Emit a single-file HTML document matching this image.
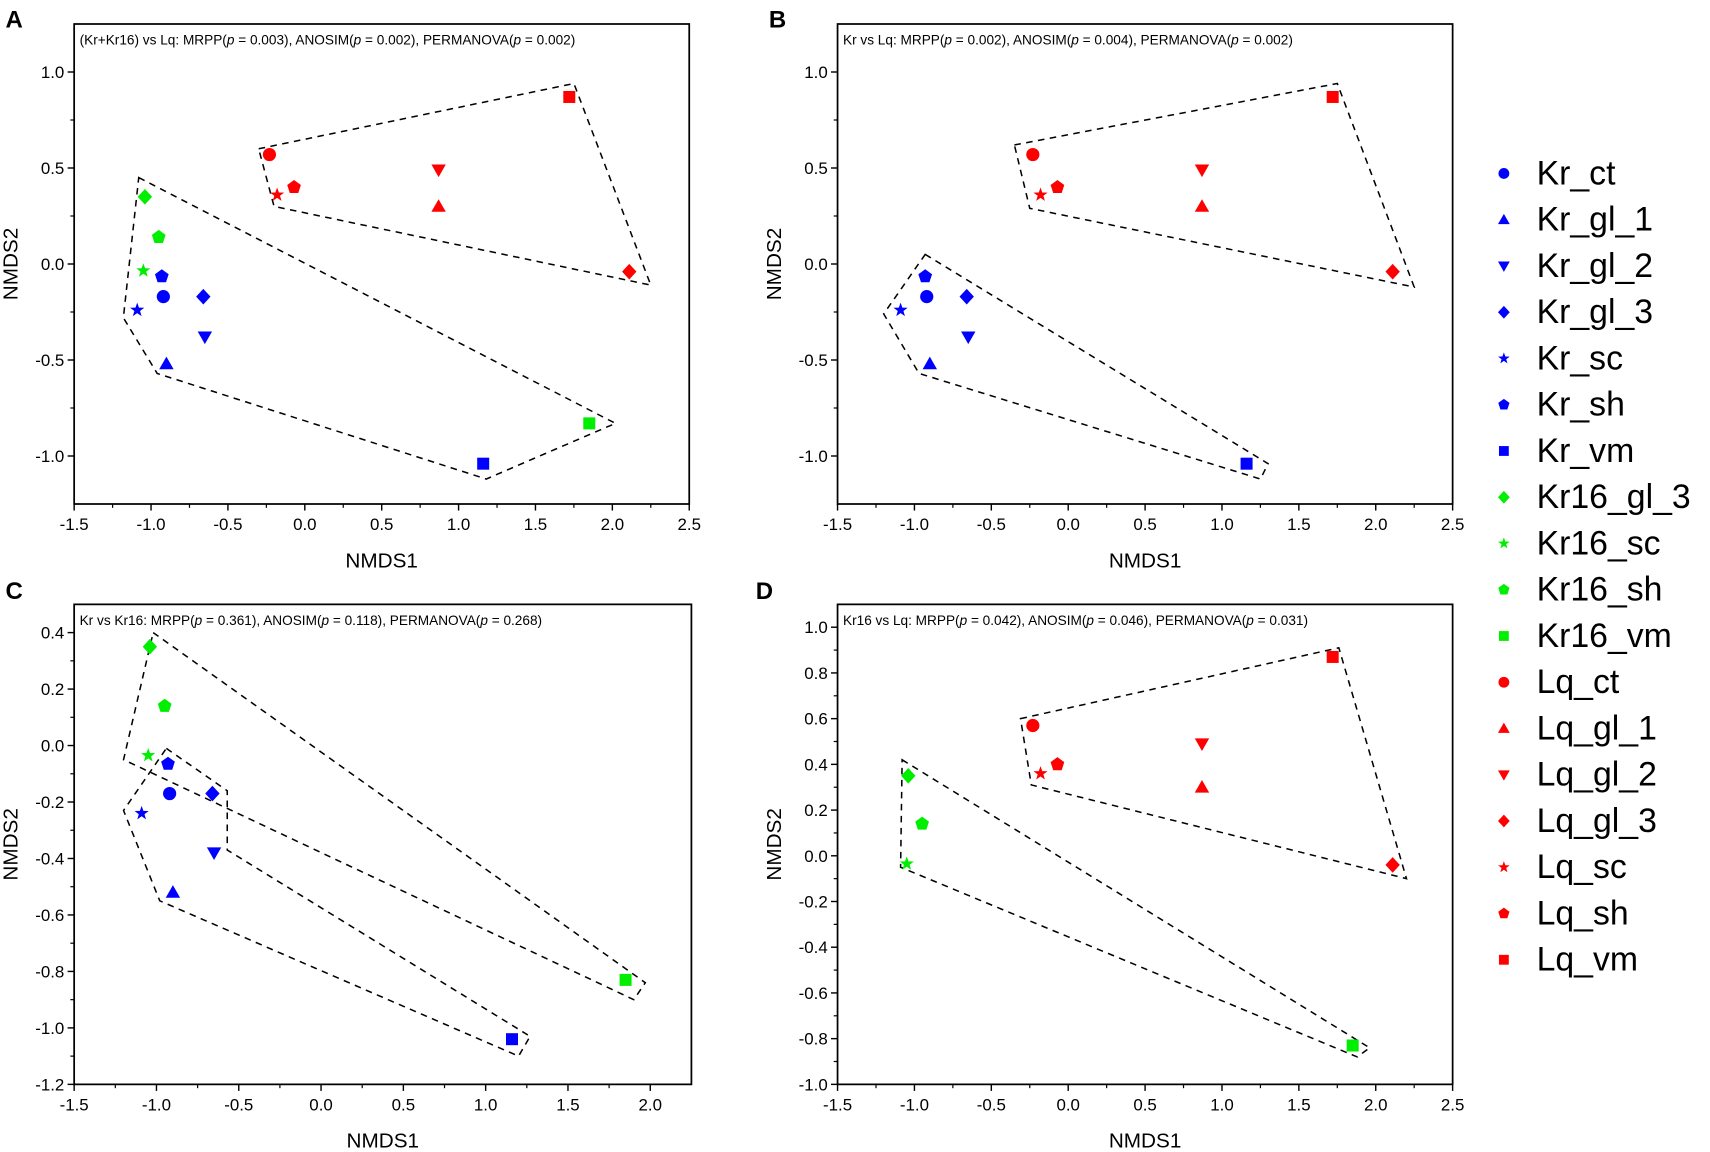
<!DOCTYPE html>
<html><head><meta charset="utf-8"><style>
html,body{margin:0;padding:0;background:#fff;}
svg{display:block;font-family:"Liberation Sans",Arial,sans-serif;}
</style></head><body>
<svg id="fig" width="1710" height="1152" viewBox="0 0 1568 1056" preserveAspectRatio="none" xmlns="http://www.w3.org/2000/svg"></svg>
<script>
// sample names, shapes and colors
const sampleNames = ["Kr_ct","Kr_gl_1","Kr_gl_2","Kr_gl_3","Kr_sc","Kr_sh","Kr_vm","Kr16_gl_3","Kr16_sc","Kr16_sh","Kr16_vm","Lq_ct","Lq_gl_1","Lq_gl_2","Lq_gl_3","Lq_sc","Lq_sh","Lq_vm"];
const sampleShapes = ["circle","up","down","diamond","star","pentagon","square","diamond","star","pentagon","square","circle","up","down","diamond","star","pentagon","square"];
const sampleColors = ["#0000ff","#0000ff","#0000ff","#0000ff","#0000ff","#0000ff","#0000ff","#00ee00","#00ee00","#00ee00","#00ee00","#ff0000","#ff0000","#ff0000","#ff0000","#ff0000","#ff0000","#ff0000"];
// NMDS coordinates
const nmds1 = [-0.92,-0.90,-0.65,-0.66,-1.09,-0.93,1.16,-1.04,-1.05,-0.95,1.85,-0.23,0.87,0.87,2.11,-0.18,-0.07,1.72];
const nmds2 = [-0.17,-0.52,-0.38,-0.17,-0.24,-0.065,-1.04,0.35,-0.035,0.14,-0.83,0.57,0.30,0.49,-0.04,0.36,0.40,0.87];
// hull polygons (data coords)
const hullA_Lq = [[-0.3,0.6],[1.75,0.94],[2.25,-0.11],[-0.2,0.3]];
const hullA_Kr = [[-1.08,0.45],[2.02,-0.83],[1.18,-1.12],[-0.96,-0.57],[-1.18,-0.28]];
const hullB_Lq = [[-0.35,0.62],[1.75,0.94],[2.25,-0.12],[-0.25,0.29]];
const hullB_Kr = [[-0.93,0.05],[1.3,-1.04],[1.25,-1.12],[-0.97,-0.57],[-1.2,-0.26]];
const hullC_Kr16 = [[-1.02,0.4],[1.97,-0.84],[1.9,-0.9],[-1.2,-0.05]];
const hullC_Kr = [[-0.94,-0.01],[-0.57,-0.16],[-0.57,-0.37],[1.27,-1.03],[1.2,-1.1],[-0.98,-0.55],[-1.2,-0.23]];
const hullD_Lq = [[-0.31,0.6],[1.76,0.91],[2.2,-0.1],[-0.24,0.31]];
const hullD_Kr16 = [[-1.08,0.42],[1.96,-0.84],[1.88,-0.88],[-1.09,-0.05]];
// tick labels
const xTicksABD = ["-1.5","-1.0","-0.5","0.0","0.5","1.0","1.5","2.0","2.5"];
const xTicksC = ["-1.5","-1.0","-0.5","0.0","0.5","1.0","1.5","2.0"];
const yTicksAB = ["-1.0","-0.5","0.0","0.5","1.0"];
const yTicksC = ["-1.2","-1.0","-0.8","-0.6","-0.4","-0.2","0.0","0.2","0.4"];
const yTicksD = ["-1.0","-0.8","-0.6","-0.4","-0.2","0.0","0.2","0.4","0.6","0.8","1.0"];

const NS="http://www.w3.org/2000/svg";
const svg=document.getElementById('fig');
function mk(tag,attrs,parent){const e=document.createElementNS(NS,tag);for(const k in attrs)e.setAttribute(k,attrs[k]);(parent||svg).appendChild(e);return e;}

function marker(shape,cx,cy,s,color,parent){
  let e;
  if(shape==="circle"){e=mk('circle',{cx:cx,cy:cy,r:s*0.55,fill:color},parent);}
  else if(shape==="square"){e=mk('rect',{x:cx-s*0.5,y:cy-s*0.5,width:s,height:s,fill:color},parent);}
  else{
    let pts=[];
    if(shape==="up")pts=[[0,-0.6],[0.6,0.45],[-0.6,0.45]];
    else if(shape==="down")pts=[[0,0.6],[0.6,-0.45],[-0.6,-0.45]];
    else if(shape==="diamond")pts=[[0,-0.65],[0.6,0],[0,0.65],[-0.6,0]];
    else if(shape==="pentagon"){for(let i=0;i<5;i++){const a=-Math.PI/2+i*2*Math.PI/5;pts.push([0.6*Math.cos(a),0.6*Math.sin(a)]);}}
    else if(shape==="star"){for(let i=0;i<10;i++){const a=-Math.PI/2+i*Math.PI/5;const r=i%2?0.25:0.62;pts.push([r*Math.cos(a),r*Math.sin(a)]);}}
    e=mk('polygon',{points:pts.map(p=>(cx+p[0]*s)+","+(cy+p[1]*s)).join(" "),fill:color},parent);
  }
  return e;
}

function panel(cfg){
  const g=mk('g',{});
  
  
  const L=cfg.left,R=cfg.right,T=cfg.top,B=cfg.bottom;
  const sx=v=>L+(v-cfg.xmin)/(cfg.xmax-cfg.xmin)*(R-L);
  const sy=v=>B-(v-cfg.ymin)/(cfg.ymax-cfg.ymin)*(B-T);
  const lab=mk('text',{x:cfg.lx,y:cfg.ly,'font-size':22,'font-weight':'bold'},g);lab.textContent=cfg.id;
  
  
  const fr=mk('rect',{x:L,y:T,width:R-L,height:B-T,fill:'none',stroke:'#000','stroke-width':1.6},g);
  
  
  cfg.xt.forEach((t,i)=>{const v=parseFloat(t);const x=sx(v);
    mk('line',{x1:x,y1:B,x2:x,y2:B+6,stroke:'#000','stroke-width':1.3},g);
    const tx=mk('text',{x:x,y:B+24,'font-size':15.5,'text-anchor':'middle'},g);tx.textContent=t;
    
    
    if(i<cfg.xt.length-1){const m=sx(v+cfg.xminor);mk('line',{x1:m,y1:B,x2:m,y2:B+3.5,stroke:'#000','stroke-width':1.1},g);}
  });
  cfg.yt.forEach((t,i)=>{const v=parseFloat(t);const y=sy(v);
    mk('line',{x1:L,y1:y,x2:L-6,y2:y,stroke:'#000','stroke-width':1.3},g);
    const ty=mk('text',{x:L-9,y:y+5.5,'font-size':15.5,'text-anchor':'end'},g);ty.textContent=t;
    
    
    for(const d of [-cfg.yminor,cfg.yminor]){const mv=v+d;if(mv>cfg.ymin&&mv<cfg.ymax&&(d>0||i===0)){const m=sy(mv);mk('line',{x1:L,y1:m,x2:L-3.5,y2:m,stroke:'#000','stroke-width':1.1},g);}}
  });
  const xtl=mk('text',{x:(L+R)/2,y:B+58,'font-size':19,'text-anchor':'middle'},g);xtl.textContent='NMDS1';
  
  
  const cy=(T+B)/2;
  const ytl=mk('text',{x:L-52,y:cy,'font-size':19,'text-anchor':'middle',transform:'rotate(-90 '+(L-52)+' '+cy+')'},g);ytl.textContent='NMDS2';
  
  
  const ann=mk('text',{x:L+5,y:T+19,'font-size':12.5},g);ann.innerHTML=cfg.ann;
  
  
  cfg.hulls.forEach(h=>{const p=mk('polygon',{points:h.map(q=>sx(q[0])+","+sy(q[1])).join(" "),fill:'none',stroke:'#000','stroke-width':1.4,'stroke-dasharray':'6,5'},g);
    
    });
  cfg.idx.forEach(i=>{const m=marker(sampleShapes[i],sx(nmds1[i]),sy(nmds2[i]),11,sampleColors[i],g);
    
    });
}
const P=v=>'<tspan font-style="italic">p</tspan>'+v;
const all=[...Array(18).keys()];
panel({id:'A',lx:5,ly:25,left:68,right:632,top:22,bottom:462,xmin:-1.5,xmax:2.5,ymin:-1.25,ymax:1.25,xt:xTicksABD,yt:yTicksAB,xminor:0.25,yminor:0.25,
 ann:'(Kr+Kr16) vs Lq: MRPP('+P(' = 0.003')+'), ANOSIM('+P(' = 0.002')+'), PERMANOVA('+P(' = 0.002')+')',hulls:[hullA_Lq,hullA_Kr],idx:all});
panel({id:'B',lx:705,ly:25,left:768,right:1332,top:22,bottom:462,xmin:-1.5,xmax:2.5,ymin:-1.25,ymax:1.25,xt:xTicksABD,yt:yTicksAB,xminor:0.25,yminor:0.25,
 ann:'Kr vs Lq: MRPP('+P(' = 0.002')+'), ANOSIM('+P(' = 0.004')+'), PERMANOVA('+P(' = 0.002')+')',hulls:[hullB_Lq,hullB_Kr],idx:[0,1,2,3,4,5,6,11,12,13,14,15,16,17]});
panel({id:'C',lx:5,ly:549,left:68,right:634,top:554,bottom:994,xmin:-1.5,xmax:2.25,ymin:-1.2,ymax:0.5,xt:xTicksC,yt:yTicksC,xminor:0.25,yminor:0.1,
 ann:'Kr vs Kr16: MRPP('+P(' = 0.361')+'), ANOSIM('+P(' = 0.118')+'), PERMANOVA('+P(' = 0.268')+')',hulls:[hullC_Kr16,hullC_Kr],idx:[0,1,2,3,4,5,6,7,8,9,10]});
panel({id:'D',lx:693,ly:549,left:768,right:1332,top:554,bottom:994,xmin:-1.5,xmax:2.5,ymin:-1.0,ymax:1.1,xt:xTicksABD,yt:yTicksD,xminor:0.25,yminor:0.1,
 ann:'Kr16 vs Lq: MRPP('+P(' = 0.042')+'), ANOSIM('+P(' = 0.046')+'), PERMANOVA('+P(' = 0.031')+')',hulls:[hullD_Lq,hullD_Kr16],idx:[7,8,9,10,11,12,13,14,15,16,17]});
const lg=mk('g',{});


sampleNames.forEach((n,i)=>{const y=158+i*42.4;
  const m=marker(sampleShapes[i],1379,y+1,9,sampleColors[i],lg);
  
  
  const t=mk('text',{x:1409,y:y+11,'font-size':31},lg);t.textContent=n;
  
  
});
</script>
</body></html>
